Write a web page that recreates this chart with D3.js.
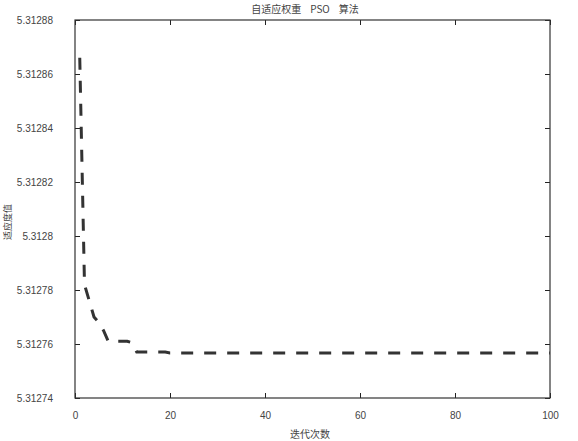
<!DOCTYPE html>
<html>
<head>
<meta charset="utf-8">
<script src="https://cdn.jsdelivr.net/npm/d3@7"></script>
<style>
	body { margin: 0; background: #fff; }
	text { font-family: "Liberation Sans", Arial, sans-serif; fill: #444; }
	.cjk { font-family: "Noto Sans CJK SC", sans-serif; }
</style>
</head>
<body>
<script>
	'use strict';

	// DATA //

	var TITLE = '自适应权重 PSO 算法',
		X_LABEL = '迭代次数',
		Y_LABEL = '适应度值';

	var xTicks = [ 0, 20, 40, 60, 80, 100 ],
		yTicks = [ 5.31274, 5.31276, 5.31278, 5.3128, 5.31282, 5.31284, 5.31286, 5.31288 ];

	// best fitness at iterations 1..20 (after that it stays flat):
	var iterations = [ 1, 2, 3, 4, 5, 6, 7, 8, 9, 10, 11, 12, 13, 14, 15, 16, 17, 18, 19, 20, 100 ],
		fitness = [
			5.312866, 5.312782, 5.312776, 5.312770, 5.312768, 5.312765, 5.312761,
			5.312761, 5.312761, 5.312761, 5.312761, 5.3127605, 5.312757, 5.312757,
			5.312757, 5.312757, 5.312757, 5.312757, 5.312757, 5.3127567, 5.3127567
		];


	// VARIABLES //

	var WIDTH = 578,
		HEIGHT = 441,
		margin = { top: 20, right: 28, bottom: 43, left: 75 },
		innerW = WIDTH - margin.left - margin.right,
		innerH = HEIGHT - margin.top - margin.bottom;

	var svg = d3.select( 'body' ).append( 'svg' )
		.attr( 'width', WIDTH )
		.attr( 'height', HEIGHT );

	var graph = svg.append( 'g' )
		.attr( 'transform', 'translate(' + margin.left + ',' + margin.top + ')' );

	var x = d3.scaleLinear().domain( [ 0, 100 ] ).range( [ 0, innerW ] ),
		y = d3.scaleLinear().domain( [ 5.31274, 5.31288 ] ).range( [ innerH, 0 ] );

	var fmt = d3.format( '.6~r' );

	// Inward ticks on all four sides:
	function styleAxis( g ) {
		g.select( '.domain' ).remove();
		g.selectAll( '.tick line' ).attr( 'stroke', '#222' );
		g.selectAll( '.tick text' ).attr( 'font-size', 10 ).attr( 'fill', '#555' );
	}

	graph.append( 'g' )
		.attr( 'transform', 'translate(0,' + innerH + ')' )
		.call( d3.axisBottom( x ).tickValues( xTicks ).tickSize( -5 ).tickPadding( 14 ) )
		.call( styleAxis );

	graph.append( 'g' )
		.call( d3.axisTop( x ).tickValues( xTicks ).tickSize( -5 ).tickFormat( '' ) )
		.call( styleAxis );

	graph.append( 'g' )
		.call( d3.axisLeft( y ).tickValues( yTicks ).tickSize( -5 ).tickPadding( 22 ).tickFormat( fmt ) )
		.call( styleAxis );

	graph.append( 'g' )
		.attr( 'transform', 'translate(' + innerW + ',0)' )
		.call( d3.axisRight( y ).tickValues( yTicks ).tickSize( -5 ).tickFormat( '' ) )
		.call( styleAxis );

	// Frame:
	graph.append( 'rect' )
		.attr( 'width', innerW )
		.attr( 'height', innerH )
		.attr( 'fill', 'none' )
		.attr( 'stroke', '#333' )
		.attr( 'stroke-width', 1.2 );

	// Curve:
	var line = d3.line()
		.x( function ( d, i ) { return x( iterations[ i ] ); } )
		.y( function ( d ) { return y( d ); } );

	graph.append( 'path' )
		.datum( fitness )
		.attr( 'd', line )
		.attr( 'fill', 'none' )
		.attr( 'stroke', '#333' )
		.attr( 'stroke-width', 3 )
		.attr( 'stroke-dasharray', '12,11' );

	// Labels:
	svg.append( 'text' )
		.attr( 'class', 'cjk' )
		.attr( 'x', 305 )
		.attr( 'y', 13 )
		.attr( 'text-anchor', 'middle' )
		.attr( 'font-size', 10 )
		.attr( 'xml:space', 'preserve' )
		.style( 'white-space', 'pre' )
		.text( TITLE.replace( / /g, '    ' ) );

	svg.append( 'text' )
		.attr( 'class', 'cjk' )
		.attr( 'x', 310 )
		.attr( 'y', 438 )
		.attr( 'text-anchor', 'middle' )
		.attr( 'font-size', 10 )
		.text( X_LABEL );

	svg.append( 'text' )
		.attr( 'class', 'cjk' )
		.attr( 'transform', 'translate(11,222) rotate(-90)' )
		.attr( 'text-anchor', 'middle' )
		.attr( 'font-size', 9 )
		.text( Y_LABEL );
</script>
</body>
</html>
